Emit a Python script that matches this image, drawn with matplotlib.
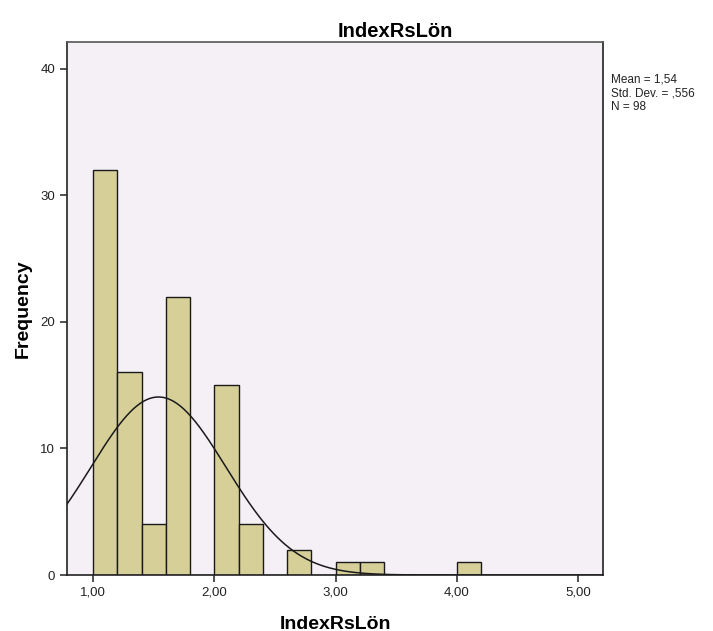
import matplotlib
matplotlib.use('Agg')
import matplotlib.pyplot as plt
import numpy as np

plt.rcParams['font.family'] = ['Liberation Sans', 'DejaVu Sans']

# histogram data (bins of width 0.2 starting at 1.0)
bin_edges = [1.0, 1.2, 1.4, 1.6, 1.8, 2.0, 2.2, 2.4, 2.6, 2.8, 3.0, 3.2, 3.4,
             3.6, 3.8, 4.0, 4.2]
counts = [32, 16, 4, 22, 0, 15, 4, 0, 2, 0, 1, 1, 0, 0, 0, 1]
mean_val = 1.54
std_val = 0.556
n_val = 98
x_ticks = [1.0, 2.0, 3.0, 4.0, 5.0]
x_ticklabels = ['1,00', '2,00', '3,00', '4,00', '5,00']
y_ticks = [0, 10, 20, 30, 40]

fig = plt.figure(figsize=(7.13, 6.31), dpi=100)
ax = fig.add_axes([0.094, 0.0887, 0.752, 0.8447])
ax.set_facecolor('#F4F0F5')

lefts = bin_edges[:-1]
widths = np.diff(bin_edges)
ax.bar(lefts, counts, width=widths, align='edge', color='#D6CF98',
       edgecolor='#1a1a1a', linewidth=1.0, zorder=2)

# normal curve
xs = np.linspace(0.78, 5.21, 400)
scale = n_val * 0.2
ys = scale / (std_val * np.sqrt(2 * np.pi)) * np.exp(-0.5 * ((xs - mean_val) / std_val) ** 2)
ax.plot(xs, ys, color='#1a1a1a', linewidth=1.1, zorder=3)

ax.set_xlim(0.786, 5.206)
ax.set_ylim(0, 42.1)
ax.set_xticks(x_ticks)
ax.set_xticklabels(x_ticklabels)
ax.set_yticks(y_ticks)
ax.tick_params(axis='both', labelsize=9.5, length=5, width=1.2, colors='#333333',
               labelcolor='#222222')
for side in ['left', 'bottom', 'right']:
    ax.spines[side].set_color('#222222')
    ax.spines[side].set_linewidth(1.2)
ax.spines['top'].set_color('#555555')
ax.spines['top'].set_linewidth(1.2)

fig.text(0.555, 0.950, 'IndexRsLön', fontsize=14.5, fontweight='bold',
         ha='center', va='center')
ax.set_xlabel('IndexRsLön', fontsize=14, fontweight='bold', labelpad=12)
ax.set_ylabel('Frequency', fontsize=14, fontweight='bold', labelpad=6)

fig.text(0.857, 0.883, 'Mean = 1,54\nStd. Dev. = ,556\nN = 98', fontsize=8.5,
         va='top', ha='left', linespacing=1.15, color='#222222')

fig.savefig('out.png', dpi=100)
